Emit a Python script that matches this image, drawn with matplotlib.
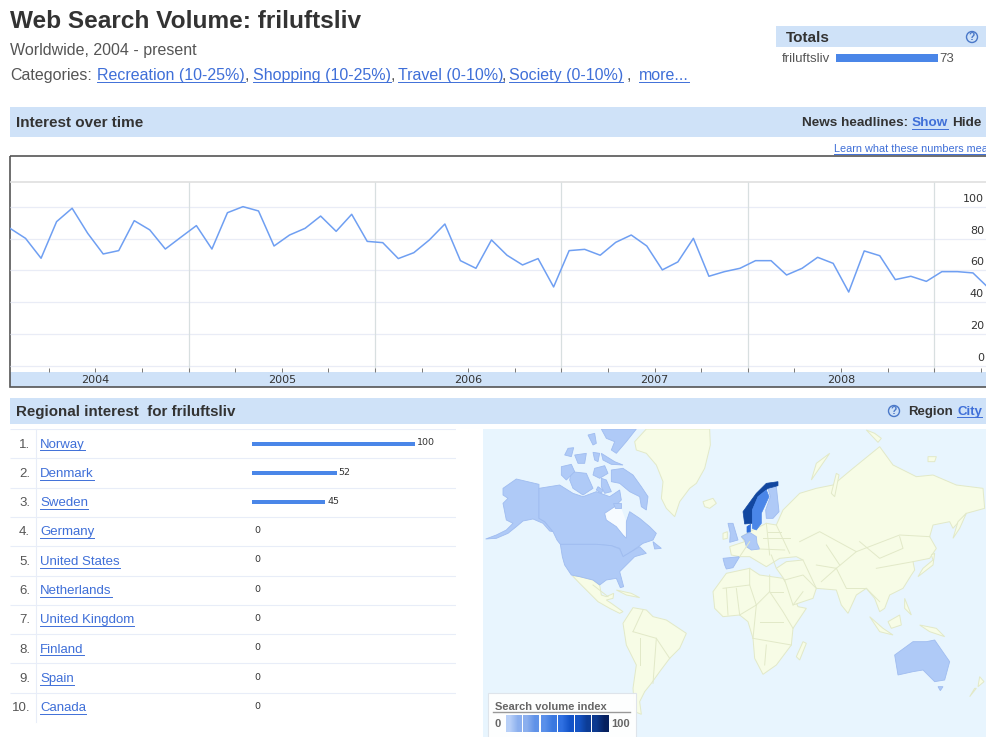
import matplotlib
matplotlib.use("Agg")
import matplotlib.pyplot as plt
from matplotlib.colors import to_rgb
from matplotlib.patches import Circle, Polygon, Rectangle
from matplotlib.transforms import ScaledTranslation

plt.rcParams["font.family"] = ["Liberation Sans", "DejaVu Sans"]

# monthly search volume, jan 2004 onwards
volume = [86.4, 80.1, 67.6, 90.6, 99, 83.3, 70.3, 72.4, 91.2, 85.4, 73.4, 80.8,
          88.1, 73.4, 96.2, 100, 97.3, 75.3, 82.2, 86.4, 94.1, 84.5, 95.2, 78.2,
          77.4, 67.4, 71.1, 79.1, 89.1, 66.1, 61.3, 79.1, 69.5, 63.4, 67.4, 49.6,
          72.4, 73.2, 69.5, 77.6, 82.2, 75.3, 60.3, 65.3, 80.1, 56.3, 59.2, 61.3,
          66.1, 66.1, 57.1, 61.3, 68.2, 64.4, 46.4, 72.2, 69.2, 54.2, 56.3, 53.1,
          59.2, 59.2, 58.4, 49]
year_labels = ["2004", "2005", "2006", "2007", "2008"]
y_ticks = [0, 20, 40, 60, 80, 100]

regions = ["Norway", "Denmark", "Sweden", "Germany", "United States", "Netherlands",
           "United Kingdom", "Finland", "Spain", "Canada"]
region_values = [100, 52, 45, 0, 0, 0, 0, 0, 0, 0]
total_term = "friluftsliv"
total_value = 73

categories = ["Recreation (10-25%)", "Shopping (10-25%)", "Travel (0-10%)", "Society (0-10%)"]

# map outlines in map units
alaska = [(60, 190), (100, 162), (168, 178), (168, 280), (185, 290), (210, 320), (200, 318), (180, 295),
          (150, 282), (120, 288), (100, 305), (75, 325), (40, 340), (8, 342), (40, 330), (70, 315),
          (90, 295), (70, 285), (65, 260), (60, 235), (75, 220), (60, 210)]
canada = [(168, 190), (230, 180), (270, 205), (300, 215), (340, 200), (380, 215), (410, 195), (415, 225),
          (395, 245), (365, 265), (370, 285), (400, 305), (420, 330), (430, 340), (430, 290), (440, 260),
          (470, 280), (500, 305), (520, 325), (510, 345), (480, 355), (445, 380), (420, 395), (410, 370),
          (385, 362), (340, 358), (232, 358), (222, 345), (210, 320), (185, 290), (168, 280)]
hudson_bay = [(365, 265), (395, 245), (415, 250), (430, 290), (430, 340), (420, 330), (400, 305), (370, 285)]
usa = [(232, 358), (340, 358), (385, 362), (410, 372), (420, 395), (470, 365), (490, 385), (455, 395),
       (430, 420), (410, 440), (422, 485), (412, 488), (400, 460), (370, 465), (350, 480), (330, 465),
       (290, 455), (265, 450), (245, 420), (238, 395)]
arctic = [
    [(385, 135), (420, 130), (450, 150), (475, 185), (495, 215), (490, 255), (475, 245), (470, 215),
     (440, 200), (410, 175), (385, 170)],
    [(265, 140), (310, 145), (330, 190), (300, 210), (270, 190), (260, 165)],
    [(235, 125), (265, 118), (275, 140), (250, 165), (235, 150)],
    [(355, 12), (460, 12), (430, 50), (400, 85), (385, 75), (395, 50), (370, 40)],
    [(315, 30), (335, 25), (340, 55), (330, 60)],
    [(255, 70), (272, 68), (265, 95), (245, 90)],
    [(275, 90), (310, 85), (305, 115), (285, 115)],
    [(330, 82), (350, 85), (345, 110), (335, 105)],
    [(355, 85), (395, 110), (420, 120), (385, 118), (360, 105)],
    [(335, 130), (365, 122), (375, 145), (350, 160), (330, 150)],
    [(345, 185), (360, 195), (355, 205), (340, 195)],
    [(355, 160), (370, 165), (385, 200), (365, 205), (355, 185)],
    [(390, 235), (415, 235), (415, 248), (395, 248)],
    [(510, 350), (535, 370), (515, 372)],
]
greenland = [(455, 50), (490, 12), (680, 12), (682, 60), (665, 130), (640, 175), (620, 190), (590, 230),
             (575, 275), (550, 250), (535, 220), (540, 170), (520, 120), (490, 85), (460, 75)]
iceland = [(660, 230), (690, 220), (700, 235), (680, 250), (665, 245)]
mexico = [(268, 452), (290, 455), (330, 465), (350, 480), (355, 510), (370, 515), (392, 505), (390, 520),
          (370, 525), (385, 535), (420, 560), (410, 565), (380, 550), (345, 530), (320, 505), (290, 475)]
south_america = [(420, 595), (450, 548), (490, 555), (510, 575), (550, 585), (610, 625), (590, 670),
                 (560, 700), (530, 740), (505, 775), (485, 800), (470, 830), (475, 868), (455, 860),
                 (450, 790), (460, 720), (430, 660)]
africa = [(690, 500), (730, 445), (800, 430), (830, 450), (900, 460), (925, 500), (945, 545), (970, 550),
          (930, 610), (925, 660), (880, 720), (840, 748), (815, 700), (810, 640), (795, 590), (770, 570),
          (720, 575), (695, 550)]
eurasia = [(740, 365), (785, 350), (775, 335), (800, 320), (850, 295), (880, 300), (900, 255), (950, 205),
           (1000, 190), (1050, 180), (1110, 130), (1190, 65), (1230, 120), (1300, 155), (1350, 150),
           (1420, 180), (1500, 190), (1505, 250), (1450, 265), (1410, 310), (1400, 290), (1350, 300),
           (1340, 335), (1360, 370), (1340, 400), (1290, 410), (1295, 435), (1285, 450), (1260, 490),
           (1220, 510), (1205, 550), (1190, 560), (1175, 520), (1150, 490), (1120, 510), (1095, 565),
           (1075, 540), (1060, 495), (1000, 490), (990, 520), (930, 540), (905, 465), (880, 430),
           (910, 410), (960, 405), (940, 395), (890, 400), (850, 425), (800, 395), (770, 395), (745, 390)]
pale_islands = [
    [(720, 325), (733, 320), (733, 340), (720, 343)],
    [(1320, 430), (1350, 405), (1345, 390), (1355, 385), (1350, 420), (1305, 455)],
    [(1410, 340), (1425, 290), (1450, 265), (1430, 310)],
    [(960, 650), (970, 655), (950, 705), (940, 695)],
    [(1490, 755), (1503, 770), (1485, 785)],
    [(1480, 790), (1460, 815), (1475, 790)],
    [(985, 165), (1040, 85), (1000, 115)],
    [(1045, 205), (1060, 145), (1068, 150), (1055, 215)],
    [(1150, 15), (1175, 25), (1195, 40), (1185, 52)],
    [(1335, 95), (1360, 95), (1355, 110), (1335, 110)],
    [(1215, 590), (1250, 570), (1255, 600), (1225, 610)],
    [(1160, 575), (1200, 610), (1230, 630), (1190, 620)],
    [(1310, 600), (1360, 610), (1385, 635), (1340, 620)],
    [(1265, 520), (1275, 545), (1285, 570), (1265, 550)],
    [(400, 495), (445, 505), (470, 518), (430, 510)],
]
spain = [(720, 400), (770, 395), (750, 428), (730, 432), (725, 420)]
uk = [(735, 295), (750, 295), (765, 345), (740, 352), (742, 325)]
germany = [(775, 335), (800, 322), (820, 335), (822, 355), (830, 372), (805, 375), (790, 365), (785, 345)]
finland = [(855, 190), (880, 185), (888, 260), (870, 280), (850, 280), (848, 255), (862, 215)]
australia = [(1235, 690), (1290, 650), (1330, 650), (1355, 645), (1400, 710), (1385, 765), (1355, 770),
             (1320, 735), (1290, 740), (1245, 750)]
tasmania = [(1365, 785), (1380, 785), (1372, 797)]
norway = [(780, 260), (785, 297), (808, 295), (808, 255), (825, 215), (855, 190), (885, 182), (885, 170),
          (850, 175), (820, 205)]
sweden = [(808, 310), (820, 315), (835, 295), (835, 265), (858, 215), (850, 195), (825, 215), (808, 255)]
denmark = [(792, 305), (803, 298), (802, 320), (792, 322)]
borders = [
    [(800, 430), (800, 480), (720, 490)], [(800, 480), (820, 540), (770, 570)],
    [(860, 450), (860, 500), (820, 540)], [(900, 500), (860, 500)], [(860, 500), (900, 560), (930, 610)],
    [(820, 540), (810, 640)], [(810, 640), (925, 660)], [(830, 590), (900, 590)], [(850, 660), (845, 720)],
    [(730, 490), (735, 570)], [(760, 490), (770, 570)],
    [(450, 620), (520, 640), (560, 700)], [(470, 640), (470, 720)], [(520, 640), (510, 775)],
    [(480, 555), (450, 620)], [(330, 480), (375, 515)],
    [(950, 350), (1010, 320), (1120, 380), (1250, 330), (1340, 335)],
    [(1130, 350), (1190, 400), (1260, 370), (1250, 335)],
    [(1000, 420), (1060, 430), (1120, 380)], [(1060, 430), (1090, 490)], [(1090, 490), (1150, 490)],
    [(1060, 430), (1015, 470)], [(960, 405), (1000, 490)], [(1150, 490), (1190, 530)],
    [(1180, 430), (1290, 410)], [(850, 295), (860, 390)], [(880, 300), (920, 385)],
    [(840, 340), (920, 340)], [(770, 395), (800, 350)], [(1030, 360), (1070, 420)],
    [(830, 372), (905, 375)], [(855, 320), (895, 320)], [(905, 465), (960, 450), (1000, 490)],
    [(930, 540), (960, 500)], [(865, 390), (880, 430)],
]
legend_colors = [("#b8d0f8", "#8bafee"), ("#8bafee", "#5f92e8"), ("#5a90ea", "#3a78e0"),
                 ("#2f70e2", "#1253c8"), ("#1554c4", "#0c3c96"), ("#0c3a90", "#06205e")]

BAND = "#cfe2f8"
LINK = "#3f6fd8"
DARK = "#333333"
GREY = "#555555"

fig = plt.figure(figsize=(9.86, 7.37), dpi=100)
W, H = 986, 737


def px_axes(x0, y0, x1, y1, **kw):
    return fig.add_axes([x0 / W, 1 - y1 / H, (x1 - x0) / W, (y1 - y0) / H], **kw)


# page furniture, in pixels
page = px_axes(0, 0, W, H)
page.set_xlim(0, W)
page.set_ylim(H, 0)
page.axis("off")


def link(x, y, s, size, **kw):
    t = page.text(x, y, s, fontsize=size, color=LINK, va="center", **kw)
    box = t.get_window_extent(fig.canvas.get_renderer())
    page.plot([box.x0, box.x1], [y + size * 0.62, y + size * 0.62], color=LINK, lw=0.7)


def help_icon(x, y):
    page.add_patch(Circle((x, y), 5.5, fc="none", ec="#4a78c8", lw=1))
    page.text(x, y, "?", fontsize=7.5, fontweight="bold", color="#4a78c8", ha="center", va="center")


page.text(10, 21, "Web Search Volume: friluftsliv", fontsize=17.6, fontweight="bold", color=DARK, va="center")
page.text(10, 50.5, "Worldwide, 2004 - present", fontsize=11.5, color=GREY, va="center")
page.text(10, 75, "Categories:", fontsize=11.5, color=GREY, va="center")
for cat, x in zip(categories, [97, 253, 398, 509]):
    link(x, 75, cat, 11.5)
for x in [245, 391, 502, 627]:
    page.text(x, 75, ",", fontsize=11.5, color=GREY, va="center")
link(639, 75, "more...", 11.5)

page.add_patch(Rectangle((776, 26), 210, 21, fc=BAND, ec="none"))
page.text(786, 37.5, "Totals", fontsize=11, fontweight="bold", color=DARK, va="center")
help_icon(972, 37)
page.text(782, 58.5, total_term, fontsize=9.5, color=GREY, va="center")
page.text(939, 58.5, str(total_value), fontsize=9.5, color=GREY, va="center")

page.add_patch(Rectangle((10, 107), 976, 30, fc=BAND, ec="none"))
page.text(16, 122.5, "Interest over time", fontsize=11, fontweight="bold", color=DARK, va="center")
page.text(802, 122.5, "News headlines:", fontsize=9.7, fontweight="bold", color=DARK, va="center")
link(912, 122.5, "Show", 9.7, fontweight="bold")
page.text(952, 122.5, "Hide", fontsize=9.7, fontweight="bold", color=DARK, va="center")
link(834, 149, "Learn what these numbers mean", 7.8)

page.add_patch(Rectangle((10, 372), 976, 15, fc=BAND, ec="none"))
page.add_patch(Rectangle((10, 156), 980, 231, fc="none", ec="#555555", lw=1.2))

page.add_patch(Rectangle((10, 398), 976, 26, fc=BAND, ec="none"))
page.text(16, 411.5, "Regional interest  for friluftsliv", fontsize=10.9, fontweight="bold", color=DARK, va="center")
help_icon(894, 411)
page.text(908, 411.5, "Region", fontsize=9.5, fontweight="bold", color=DARK, va="center")
link(957, 411.5, "City", 9.5, fontweight="bold")

for i, name in enumerate(regions):
    y = 444.5 + 29.3 * i
    page.text(30, y, f"{i + 1}.", fontsize=9.5, color=GREY, va="center", ha="right")
    link(40, y, name, 9.5)
page.plot([36, 36], [429, 722], color="#e8edf8", lw=0.8)

# totals bar
tot = px_axes(836, 54, 938, 62)
tot.barh([0], [total_value], height=1, color="#4a86e8")
tot.set_xlim(0, total_value)
tot.set_ylim(-0.5, 0.5)
tot.axis("off")

# interest over time
ax = px_axes(10, 156, 986, 372)
ax.patch.set_alpha(0)
ax.plot(range(len(volume)), volume, color="#6f9ff2", lw=1.1)
ax.set_xlim(0, 62.84)
ax.set_ylim(-3.8, 131.8)
for s in ax.spines.values():
    s.set_visible(False)
ax.hlines(y_ticks, 0, 62.84, color="#e9ecf6", lw=0.9, zorder=0)
ax.hlines(115.5, 0, 62.84, color="#dcdcdc", lw=1.1, zorder=0)
ax.vlines([11.5, 23.5, 35.5, 47.5, 59.5], -3.8, 115.5, color="#d8dfe0", lw=0.9, zorder=0)

tick_pos = [2.5 + 3 * i for i in range(21)]
tick_text = [""] * len(tick_pos)
for i, lab in enumerate(year_labels):
    tick_text[1 + 4 * i] = lab
ax.set_xticks(tick_pos, tick_text)
ax.tick_params(axis="x", direction="in", length=2.9, width=0.7, color="#777777", pad=2.5,
               labelcolor=DARK)
for lab in ax.get_xticklabels():
    lab.set_fontfamily(["DejaVu Sans"])
    lab.set_fontsize(8)
for t, p in zip(ax.xaxis.get_major_ticks(), tick_pos):
    if (p - 11.5) % 12 == 0:
        t.tick1line.set_color("#222222")

ax.yaxis.tick_right()
ax.set_yticks(y_ticks)
ax.tick_params(axis="y", length=0, pad=-1.5, labelcolor=DARK)
for lab in ax.get_yticklabels():
    lab.set_fontfamily(["DejaVu Sans"])
    lab.set_fontsize(8)
    lab.set_ha("right")
    lab.set_va("center")
    lab.set_transform(lab.get_transform() + ScaledTranslation(0, 8 / 100, fig.dpi_scale_trans))

# regional bars, x=0 sits at pixel 252 and 100 is 163 pixels long
bars = px_axes(10, 429, 456, 722)
bars.patch.set_alpha(0)
bars.barh(range(len(regions)), region_values, height=0.14, color="#4a86e8")
bars.set_xlim(-148.5, 125.2)
bars.set_ylim(9.5, -0.5)
bars.axis("off")
bars.hlines([i - 0.5 for i in range(len(regions))], -148.5, 125.2, color="#e8edf8", lw=0.8)
for i, v in enumerate(region_values):
    bars.text(v + 1.2, i - 0.03, str(v), fontsize=6.8, color=DARK, va="center", family="DejaVu Sans")

# map
m = px_axes(483, 429, 986, 737)
m.set_facecolor("#e8f5fe")
m.set_xticks([])
m.set_yticks([])
for s in m.spines.values():
    s.set_visible(False)

pale = "#f7fce6"
pale_edge = "#e2e9c8"
m.add_patch(Polygon(hudson_bay, fc="#f6fbff", ec="none"))
for shape in [greenland, iceland, mexico, south_america, africa, eurasia] + pale_islands:
    m.add_patch(Polygon(shape, fc=pale, ec=pale_edge, lw=0.7))
for b in borders:
    m.plot(*zip(*b), color=pale_edge, lw=0.7)
light = "#afcaf7"
light_edge = "#9fbcf0"
for shape in [alaska, canada, usa, spain, uk, germany, finland, australia, tasmania] + arctic:
    m.add_patch(Polygon(shape, fc=light, ec=light_edge, lw=0.6))
m.add_patch(Polygon(norway, fc="#12479f", ec="#12479f", lw=0.5))
m.add_patch(Polygon(sweden, fc="#4a86e8", ec="#4a86e8", lw=0.5))
m.add_patch(Polygon(denmark, fc="#2f6fdc", ec="#2f6fdc", lw=0.5))

# colour legend
m.add_patch(Rectangle((15, 805), 443, 140, fc="white", ec="#dde3ea", lw=0.8, alpha=0.93))
m.text(36, 845, "Search volume index", fontsize=8, fontweight="bold", color="#666666", va="center")
m.plot([30, 442], [862, 862], color="#999999", lw=1)
m.text(45, 897, "0", fontsize=8, fontweight="bold", color="#666666", va="center", ha="center")
m.text(386, 897, "100", fontsize=8, fontweight="bold", color="#666666", va="center")
for (c0, c1), (x0, x1) in zip(legend_colors, [(70, 117), (121, 168), (173, 220), (225, 272), (276, 324), (327, 377)]):
    m.imshow([[to_rgb(c0), to_rgb(c1)]], extent=(x0, x1, 920, 870), aspect="auto",
             interpolation="bilinear", zorder=3)
m.set_xlim(0, 1509)
m.set_ylim(936, 12)

fig.savefig("out.png", dpi=100)
